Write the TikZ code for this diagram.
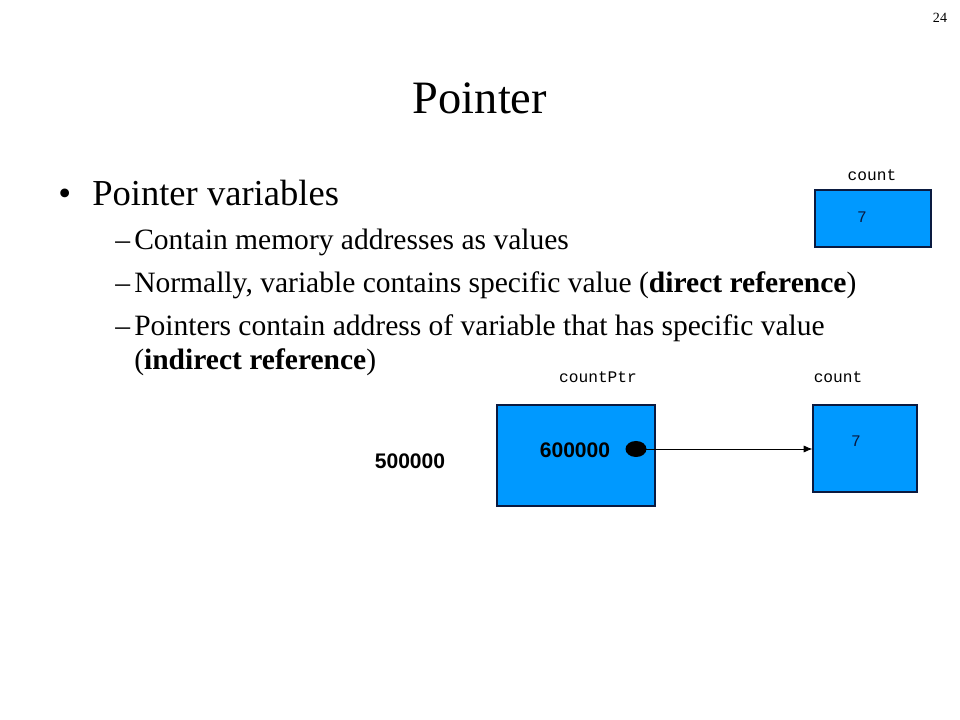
\documentclass[tikz,border=0pt]{standalone}
\usepackage{fontspec}
\setmainfont{Liberation Serif}
\setsansfont{Liberation Sans}
\setmonofont{Liberation Mono}
\usetikzlibrary{arrows.meta, positioning}
\definecolor{boxblue}{HTML}{0099FF}
\definecolor{boxline}{HTML}{0A1A40}
\tikzset{
  membox/.style={draw=boxline, fill=boxblue, line width=0.8pt, inner sep=0pt},
  varlabel/.style={font=\fontsize{11.5}{13}\ttfamily, inner sep=0pt},
  value/.style={font=\fontsize{11.5}{13}\ttfamily, text=boxline, inner sep=0pt},
  addr/.style={font=\fontsize{15}{17}\sffamily\bfseries, inner sep=0pt},
  item/.style={anchor=base west, inner sep=0pt, font=\fontsize{21}{24}\selectfont},
  enmark/.style={anchor=base west, inner sep=0pt, font=\fontsize{21}{24}\selectfont},
  link/.style={-{Latex[length=2.2mm, width=1.8mm]}, line width=0.6pt},
}
\begin{document}
\begin{tikzpicture}[x=0.025cm, y=-0.025cm]
  \useasboundingbox (0,0) rectangle (960,720);
  % page number and title
  \node[font=\fontsize{10}{12}\selectfont, inner sep=0pt] (page) at (940,18) {24};
  \node[font=\fontsize{33}{38}\selectfont, inner sep=0pt] (title) at (480,98) {Pointer};
  % bullet list
  \node[anchor=base west, inner sep=0pt, font=\fontsize{26}{30}\selectfont] (bullet) at (58,206) {\textbullet};
  \node[anchor=base west, inner sep=0pt, font=\fontsize{26}{30}\selectfont] (head) at (92,206) {Pointer variables};
  \node[enmark] (d1) at (115,250) {--};
  \node[item] (i1) at (134,250) {Contain memory addresses as values};
  \node[enmark] (d2) at (115,293) {--};
  \node[item] (i2) at (134,293) {Normally, variable contains specific value (\textbf{direct reference})};
  \node[enmark] (d3) at (115,336) {--};
  \node[item] (i3) at (134,336) {Pointers contain address of variable that has specific value};
  \node[item] (i4) at (134,370) {(\textbf{indirect reference})};
  % direct reference
  \node[membox, minimum width=116*0.025cm, minimum height=57*0.025cm] (count) at (873,218.5) {};
  \node[varlabel] (countlab) at (872,175) {count};
  \node[value] (countval) at (862,217) {7};
  % indirect reference
  \node[membox, minimum width=158*0.025cm, minimum height=101*0.025cm] (ptr) at (576,455.5) {};
  \node[varlabel] (ptrlab) at (598,377) {countPtr};
  \node[addr] (ptrval) at (575,450) {600000};
  \node[addr] (ptraddr) at (410,461) {500000};
  \node[membox, minimum width=104*0.025cm, minimum height=87*0.025cm] (target) at (865,448.5) {};
  \node[varlabel] (targetlab) at (838,377) {count};
  \node[value] (targetval) at (856,441) {7};
  \fill (636,449) ellipse [x radius=10.5, y radius=8];
  \coordinate (dot) at (636,449);
  \draw[link] (dot) -- (target.west |- dot);
\end{tikzpicture}
\end{document}
